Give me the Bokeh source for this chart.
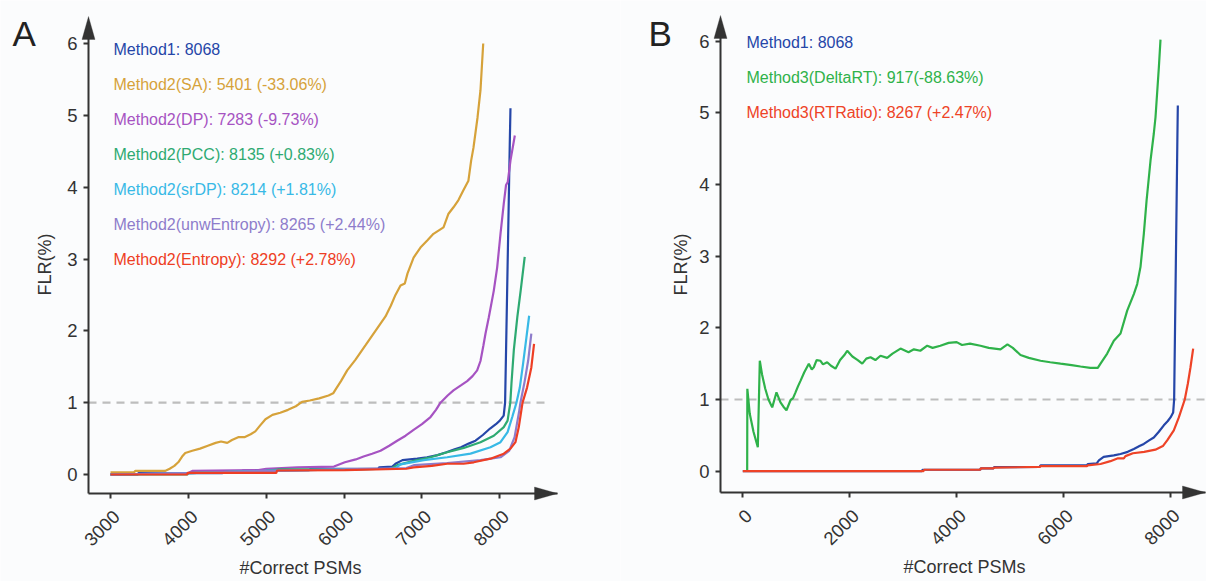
from math import pi
import numpy as np
from bokeh.plotting import figure
from bokeh.layouts import row
from bokeh.models import Range1d, FixedTicker, Label, PolyAnnotation, LinearAxis
from bokeh.embed import file_html
from bokeh.resources import INLINE

FONT = "Liberation Sans"
BG = "#fbfcfd"
AXC = "#333333"

# ---------------- data ----------------
M1_X = [0, 3000, 3350, 3360, 4440, 4450, 4690, 4700, 5550, 5570, 6440, 6450, 6620, 6660, 6750, 6940,
        7065, 7200, 7314, 7420, 7501, 7600, 7688, 7782, 7875, 7950, 8000, 8050, 8068, 8085, 8100,
        8115, 8128, 8137]
M1_Y = [0.0, 0.0, 0.0, 0.02, 0.02, 0.04, 0.04, 0.056, 0.06, 0.08, 0.08, 0.1, 0.11, 0.15, 0.2, 0.22,
        0.24, 0.27, 0.31, 0.35, 0.38, 0.43, 0.47, 0.55, 0.64, 0.7, 0.75, 0.82, 1.0, 2.0, 2.9,
        3.8, 4.6, 5.1]

SA_X = [3000, 3300, 3320, 3700, 3760, 3820, 3870, 3920, 3960, 4050, 4150, 4250, 4350, 4420, 4500,
        4560, 4640, 4720, 4800, 4860, 4920, 4990, 5080, 5180, 5280, 5380, 5460, 5560, 5680, 5800,
        5860, 5900, 5960, 6040, 6147, 6276, 6403, 6532, 6600, 6660, 6725, 6780, 6815, 6893, 6981,
        7071, 7148, 7277, 7341, 7405, 7469, 7534, 7597, 7632, 7662, 7714, 7752, 7787]
SA_Y = [0.03, 0.03, 0.05, 0.05, 0.08, 0.12, 0.17, 0.25, 0.3, 0.33, 0.36, 0.4, 0.44, 0.46, 0.44,
        0.48, 0.52, 0.52, 0.56, 0.6, 0.68, 0.77, 0.83, 0.86, 0.9, 0.95, 1.01, 1.03, 1.06, 1.1,
        1.13, 1.2, 1.3, 1.45, 1.6, 1.8, 2.0, 2.2, 2.35, 2.5, 2.63, 2.66, 2.8, 3.02, 3.16,
        3.26, 3.35, 3.44, 3.63, 3.72, 3.82, 3.96, 4.09, 4.37, 4.55, 4.97, 5.35, 6.0]

DP_X = [3000, 4000, 4050, 4900, 5000, 5400, 5870, 6010, 6150, 6250, 6360, 6468, 6580, 6682, 6790,
        6893, 7000, 7110, 7180, 7238, 7330, 7405, 7500, 7581, 7650, 7709, 7752, 7790, 7816, 7859,
        7923, 7966, 8009, 8051, 8080, 8102, 8137, 8193]
DP_Y = [0.0, 0.02, 0.05, 0.06, 0.08, 0.1, 0.11, 0.17, 0.21, 0.25, 0.29, 0.33, 0.4, 0.47, 0.54,
        0.62, 0.7, 0.8, 0.9, 1.0, 1.1, 1.17, 1.24, 1.3, 1.37, 1.45, 1.58, 1.8, 1.96, 2.19,
        2.56, 2.88, 3.35, 3.77, 4.03, 4.07, 4.37, 4.72]

PCC_X = [3000, 3990, 4000, 5000, 5150, 6000, 6600, 6682, 6896, 7110, 7324, 7538, 7752, 7923, 8051,
         8100, 8135, 8150, 8180, 8225, 8268, 8320]
PCC_Y = [0.0, 0.0, 0.02, 0.05, 0.07, 0.07, 0.08, 0.13, 0.19, 0.24, 0.31, 0.37, 0.45, 0.54, 0.66,
         0.75, 1.0, 1.27, 1.73, 2.19, 2.56, 3.03]

SRDP_X = [3000, 4000, 5000, 6000, 6650, 6725, 7024, 7324, 7624, 7880, 8009, 8100, 8160, 8214, 8257,
          8300, 8342, 8377]
SRDP_Y = [0.0, 0.02, 0.05, 0.07, 0.08, 0.14, 0.2, 0.24, 0.29, 0.38, 0.45, 0.59, 0.8, 1.0, 1.21,
          1.55, 1.91, 2.21]

UNW_X = [3000, 4000, 5000, 6000, 6800, 6896, 7324, 7752, 8009, 8120, 8190, 8250, 8265, 8320, 8365,
         8405]
UNW_Y = [0.0, 0.02, 0.05, 0.07, 0.09, 0.13, 0.16, 0.2, 0.24, 0.33, 0.52, 0.89, 1.0, 1.3, 1.59,
         1.96]

ENT_X = [3000, 3985, 3990, 5130, 5140, 6010, 6800, 6893, 7127, 7324, 7534, 7666, 7880, 8051, 8137,
         8201, 8244, 8292, 8350, 8405, 8440]
ENT_Y = [0.0, 0.0, 0.024, 0.024, 0.056, 0.06, 0.08, 0.1, 0.12, 0.15, 0.15, 0.17, 0.22, 0.29, 0.36,
         0.45, 0.66, 1.0, 1.21, 1.49, 1.82]

DRT_X = [82, 85, 130, 200, 281, 318, 360, 420, 480, 550, 600, 630, 705, 760, 817, 892, 940, 986,
         1030, 1079, 1150, 1235, 1290, 1328, 1380, 1453, 1500, 1578, 1650, 1734, 1820, 1900, 1953,
         2050, 2150, 2234, 2310, 2389, 2480, 2576, 2700, 2800, 2950, 3100, 3200, 3320, 3450, 3550,
         3695, 3850, 4000, 4100, 4250, 4446, 4600, 4820, 4950, 5050, 5194, 5350, 5569, 5750, 5943,
         6150, 6317, 6500, 6640, 6691, 6816, 6940, 7065, 7190, 7314, 7377, 7439, 7501, 7552, 7626,
         7688, 7720, 7782, 7813]
DRT_Y = [0.0, 1.15, 0.8, 0.55, 0.335, 1.54, 1.35, 1.15, 1.0, 0.89, 1.02, 1.1, 0.96, 0.9, 0.85,
         0.99, 1.02, 1.1, 1.18, 1.26, 1.38, 1.5, 1.42, 1.45, 1.55, 1.54, 1.49, 1.52, 1.47, 1.43,
         1.55, 1.62, 1.68, 1.6, 1.55, 1.5, 1.57, 1.59, 1.55, 1.61, 1.58, 1.64, 1.71, 1.66, 1.7,
         1.68, 1.75, 1.72, 1.75, 1.79, 1.8, 1.76, 1.78, 1.75, 1.72, 1.7, 1.77, 1.72, 1.62, 1.58,
         1.54, 1.52, 1.5, 1.48, 1.46, 1.44, 1.44, 1.5, 1.64, 1.82, 1.92, 2.24, 2.47, 2.61, 2.85,
         3.31, 3.77, 4.33, 4.71, 4.94, 5.63, 6.02]

RTR_X = [0, 3380, 3390, 4440, 4450, 4690, 4700, 5560, 5570, 6440, 6450, 6691, 6877, 7017, 7127,
         7157, 7297, 7507, 7717, 7857, 7938, 8000, 8062, 8156, 8267, 8324, 8374, 8424]
RTR_Y = [0.0, 0.0, 0.02, 0.02, 0.04, 0.04, 0.05, 0.06, 0.07, 0.07, 0.08, 0.1, 0.14, 0.18, 0.18,
         0.21, 0.25, 0.27, 0.3, 0.35, 0.43, 0.5, 0.57, 0.75, 1.0, 1.22, 1.45, 1.71]

A_LABELS = ["Method1: 8068", "Method2(SA): 5401 (-33.06%)", "Method2(DP): 7283 (-9.73%)",
            "Method2(PCC): 8135 (+0.83%)", "Method2(srDP): 8214 (+1.81%)",
            "Method2(unwEntropy): 8265 (+2.44%)", "Method2(Entropy): 8292 (+2.78%)"]
B_LABELS = ["Method1: 8068", "Method3(DeltaRT): 917(-88.63%)", "Method3(RTRatio): 8267 (+2.47%)"]

A_XTICKS = [3000, 4000, 5000, 6000, 7000, 8000]
B_XTICKS = [0, 2000, 4000, 6000, 8000]
YTICKS = [0, 1, 2, 3, 4, 5, 6]
THRESHOLD = 1

C_M1 = "#2546a8"
C_SA = "#d6a23a"
C_DP = "#a653c2"
C_PCC = "#2eaa72"
C_SRDP = "#38b9e6"
C_UNW = "#8e7ccb"
C_ENT = "#ee3e24"
C_DRT = "#2fb24a"
C_RTR = "#ee4327"

H = 581


def calib(pa, va, pb, vb):
    k = (vb - va) / (pb - pa)
    return (lambda px: va + (px - pa) * k), k


def make_panel(canvas_left, width, xcal, ycal, frame, xticks):
    """frame = (left, top, right, bottom) of the axes, in page pixels"""
    fx, kx = calib(*xcal)
    fy, ky = calib(*ycal)
    fl, ft, fr, fb = frame
    p = figure(width=width, height=H, output_backend="svg", toolbar_location=None, title=None,
               x_range=Range1d(fx(canvas_left), fx(canvas_left + width)),
               y_range=Range1d(fy(H), fy(0)),
               min_border_left=0, min_border_right=0, min_border_top=0, min_border_bottom=0)
    p.background_fill_color = BG
    p.border_fill_color = BG
    p.outline_line_color = None
    p.grid.grid_line_color = None

    def style(ax):
        ax.axis_line_color = AXC
        ax.axis_line_width = 2
        ax.major_tick_line_color = AXC
        ax.major_tick_line_width = 2
        ax.major_tick_in = 0
        ax.major_tick_out = 5
        ax.minor_tick_line_color = None
        ax.major_label_text_font = FONT
        ax.major_label_text_font_size = "18.5px"
        ax.major_label_text_color = "#333333"

    # x axis: line + ticks (labels on a separate axis below)
    xa = p.xaxis[0]
    style(xa)
    xa.ticker = FixedTicker(ticks=xticks)
    xa.fixed_location = fy(fb)
    xa.bounds = (fx(fl), fx(fr))
    xa.major_label_text_color = None

    # x tick labels, nudged to mimic the rotated ggplot labels
    shift = 6 * (-kx)
    p.extra_x_ranges = {"lab": Range1d(fx(canvas_left) + shift, fx(canvas_left + width) + shift)}
    lab = LinearAxis(x_range_name="lab", ticker=FixedTicker(ticks=xticks))
    style(lab)
    lab.axis_line_color = None
    lab.major_tick_line_color = None
    lab.major_tick_out = 0
    lab.major_label_orientation = pi / 4
    lab.major_label_standoff = 20
    lab.fixed_location = fy(fb)
    p.add_layout(lab, "below")

    ya = p.yaxis[0]
    style(ya)
    ya.ticker = FixedTicker(ticks=YTICKS)
    ya.fixed_location = fx(fl)
    ya.bounds = (fy(fb), fy(ft + 6))
    ya.major_label_standoff = 6

    # arrow heads
    hl, hw = 23, 6.5
    tip_y = ft - 2
    p.add_layout(PolyAnnotation(xs=[fx(fl), fx(fl - hw), fx(fl + hw)],
                                ys=[fy(tip_y), fy(tip_y + hl), fy(tip_y + hl)],
                                fill_color=AXC, fill_alpha=1, line_color=AXC, line_width=1))
    p.add_layout(PolyAnnotation(xs=[fx(fr), fx(fr - hl), fx(fr - hl)],
                                ys=[fy(fb), fy(fb - hw), fy(fb + hw)],
                                fill_color=AXC, fill_alpha=1, line_color=AXC, line_width=1))

    def d(px, py):
        return fx(px), fy(py)

    return p, d, fx


def add_text(p, d, px, py, text, color, size, angle=0, align="left", baseline="middle"):
    x, y = d(px, py)
    p.add_layout(Label(x=x, y=y, text=text, text_color=color, text_font=FONT,
                       text_font_size=size, angle=angle, text_align=align,
                       text_baseline=baseline))


# ---------------- panel A ----------------
pA, dA, fxA = make_panel(0, 620, (110, 3000, 499.3, 8000), (474, 0, 43, 6),
                         (88, 18, 557, 493), A_XTICKS)
pA.line([fxA(88), fxA(550)], [THRESHOLD, THRESHOLD], line_color="#bdbdbd",
        line_width=2.2, line_dash="8 6")

series_A = [(M1_X, M1_Y, C_M1), (SA_X, SA_Y, C_SA), (DP_X, DP_Y, C_DP), (PCC_X, PCC_Y, C_PCC),
            (SRDP_X, SRDP_Y, C_SRDP), (UNW_X, UNW_Y, C_UNW), (ENT_X, ENT_Y, C_ENT)]
for xs, ys, c in series_A:
    xs = np.array(xs, dtype=float)
    ys = np.array(ys, dtype=float)
    keep = xs >= A_XTICKS[0]
    pA.line(xs[keep], ys[keep], line_color=c, line_width=2.2)

for i, (labtxt, (_, _, c)) in enumerate(zip(A_LABELS, series_A)):
    add_text(pA, dA, 113, 48.5 + 35.1 * i, labtxt, c, "16px")

add_text(pA, dA, 12, 33, "A", "#222222", "35px")
add_text(pA, dA, 44, 264, "FLR(%)", "#333333", "18px", angle=pi / 2, align="center")
add_text(pA, dA, 300, 567, "#Correct PSMs", "#333333", "18px", align="center")

# ---------------- panel B ----------------
pB, dB, fxB = make_panel(620, 586, (742.3, 0, 1170, 8000), (470.7, 0, 40.5, 6),
                         (720, 17, 1205, 492), B_XTICKS)
pB.line([fxB(720), fxB(1206)], [THRESHOLD, THRESHOLD], line_color="#bdbdbd",
        line_width=2.2, line_dash="8 6")

series_B = [(M1_X, M1_Y, C_M1), (DRT_X, DRT_Y, C_DRT), (RTR_X, RTR_Y, C_RTR)]
for xs, ys, c in series_B:
    pB.line(xs, ys, line_color=c, line_width=2.2)

for i, (labtxt, (_, _, c)) in enumerate(zip(B_LABELS, series_B)):
    add_text(pB, dB, 746, 41.5 + 35.1 * i, labtxt, c, "16px")

add_text(pB, dB, 648, 33, "B", "#222222", "35px")
add_text(pB, dB, 680, 264, "FLR(%)", "#333333", "18px", angle=pi / 2, align="center")
add_text(pB, dB, 964, 566, "#Correct PSMs", "#333333", "18px", align="center")

layout = row(pA, pB)
open("out.html", "w").write(file_html(layout, INLINE))
